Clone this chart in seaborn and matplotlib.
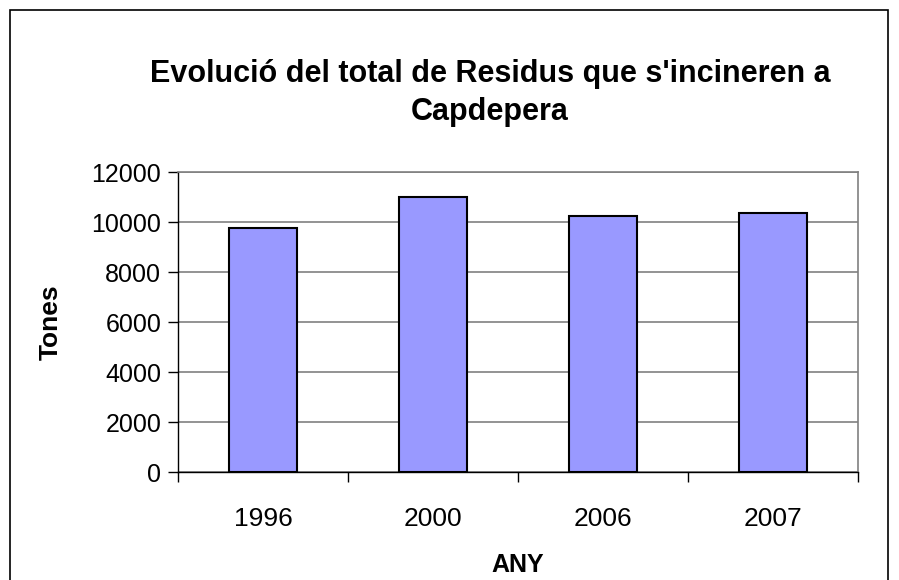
import matplotlib
matplotlib.use("Agg")
import matplotlib.pyplot as plt
import seaborn as sns
import pandas as pd
from matplotlib.patches import Rectangle

years = ["1996", "2000", "2006", "2007"]
tones = [9770, 10990, 10250, 10350]
yticks = [0, 2000, 4000, 6000, 8000, 10000, 12000]

sns.set_style("white")
plt.rcParams["font.family"] = ["Liberation Sans", "DejaVu Sans"]
plt.rcParams.update({"text.color": "black", "axes.labelcolor": "black",
                     "xtick.color": "black", "ytick.color": "black"})

df = pd.DataFrame({"ANY": years, "Tones": tones})

fig = plt.figure(figsize=(8.99, 5.80), dpi=100)
ax = fig.add_axes([178 / 899, 1 - 472 / 580, 680 / 899, 300 / 580])

# outer chart border
fig.patches.append(Rectangle((10 / 899, -0.1), 878 / 899, 1 - 10 / 580 + 0.1,
                             transform=fig.transFigure, fill=False,
                             edgecolor="black", linewidth=1.2))

sns.barplot(data=df, x="ANY", y="Tones", color="#9999FF", width=0.4,
            edgecolor="black", linewidth=1.5, saturation=1, ax=ax, zorder=3)

ax.set_xlim(-0.5, 3.5)
ax.set_ylim(0, 12000)
ax.set_yticks(yticks)
ax.set_yticklabels([str(v) for v in yticks], fontsize=18)
ax.yaxis.grid(True, color="#808080", linewidth=1.2, zorder=0)
ax.set_axisbelow(True)

# category ticks at boundaries, labels at centres
ax.set_xticks([-0.5, 0.5, 1.5, 2.5, 3.5])
ax.set_xticklabels([])
ax.set_xticks(range(len(years)), minor=True)
ax.set_xticklabels(years, minor=True, fontsize=19)
ax.tick_params(axis="x", which="major", bottom=True, direction="out", length=7, width=1, color="black")
ax.tick_params(axis="x", which="minor", bottom=True, length=0, pad=25)
ax.tick_params(axis="y", direction="out", length=7, width=1, color="black", pad=5, left=True)

for side in ["top", "right"]:
    ax.spines[side].set_color("#808080")
    ax.spines[side].set_linewidth(1.2)
for side in ["left", "bottom"]:
    ax.spines[side].set_color("black")
    ax.spines[side].set_linewidth(1)

ax.set_xlabel("ANY", fontsize=18, fontweight="bold", labelpad=16)
ax.set_ylabel("Tones", fontsize=19, fontweight="bold", labelpad=21)

fig.text(0.545, 1 - 93 / 580, "Evolució del total de Residus que s'incineren a\nCapdepera",
         ha="center", va="center", fontsize=22, fontweight="bold", linespacing=1.35)

fig.savefig("out.png", dpi=100)
